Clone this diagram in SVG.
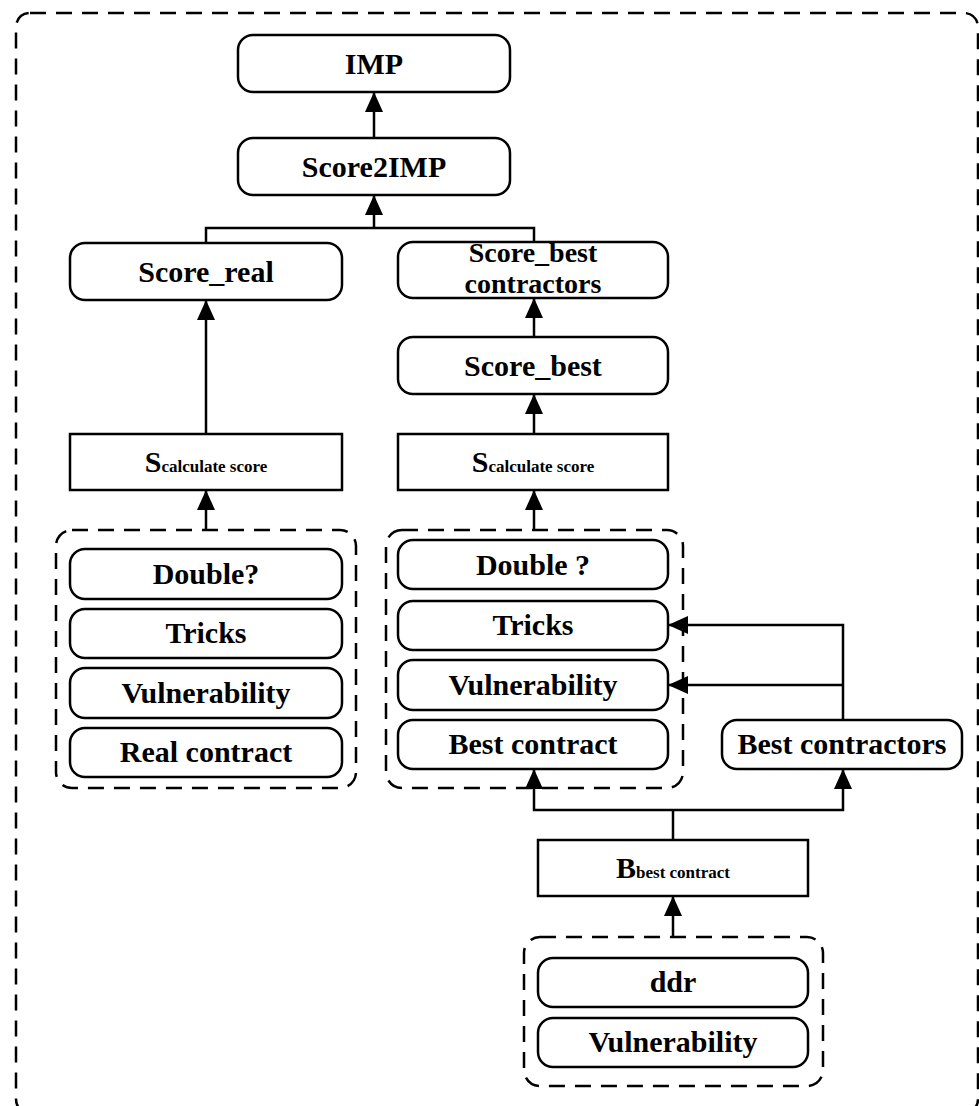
<svg xmlns="http://www.w3.org/2000/svg" width="979" height="1106" viewBox="0 0 979 1106">
<style>
.n{fill:#fff;stroke:#000;stroke-width:2.5}
.g{fill:none;stroke:#000;stroke-width:2.5;stroke-dasharray:16 10}
.c{fill:none;stroke:#000;stroke-width:2.5}
.t{font-family:"Liberation Serif","Times New Roman",serif;font-weight:bold;font-size:30px;text-anchor:middle;fill:#000}
.t2{font-family:"Liberation Serif","Times New Roman",serif;font-weight:bold;font-size:28px;text-anchor:middle;fill:#000}
.s{font-size:17px}
</style>
<defs>
<marker id="a" markerWidth="20" markerHeight="18" refX="19" refY="9" orient="auto" markerUnits="userSpaceOnUse" viewBox="0 0 20 18">
<path d="M0,0 L20,9 L0,18 Z" fill="#000"/>
</marker>
</defs>
<rect x="16" y="13" width="962" height="1100" rx="14" class="g"/>
<g id="connectors">
<path class="c" d="M374,138 V93" marker-end="url(#a)"/>
<path class="c" d="M206,243 V228 H534 V242"/>
<path class="c" d="M374,228 V196" marker-end="url(#a)"/>
<path class="c" d="M206,434 V301" marker-end="url(#a)"/>
<path class="c" d="M206,530 V491" marker-end="url(#a)"/>
<path class="c" d="M534,337 V299" marker-end="url(#a)"/>
<path class="c" d="M534,434 V395" marker-end="url(#a)"/>
<path class="c" d="M534,530 V491" marker-end="url(#a)"/>
<path class="c" d="M673,840 V810"/>
<path class="c" d="M673,810 H534 V770" marker-end="url(#a)"/>
<path class="c" d="M673,810 H843 V770" marker-end="url(#a)"/>
<path class="c" d="M843,720 V625 H669" marker-end="url(#a)"/>
<path class="c" d="M843,685 H669" marker-end="url(#a)"/>
<path class="c" d="M673,937 V897" marker-end="url(#a)"/>
</g>
<g id="imp"><rect class="n" x="238" y="35" width="272" height="57" rx="15"/><text class="t" x="374" y="74">IMP</text></g>
<g id="score2imp"><rect class="n" x="238" y="138" width="272" height="57" rx="15"/><text class="t" x="374" y="177">Score2IMP</text></g>
<g id="score_real"><rect class="n" x="70" y="243" width="272" height="57" rx="15"/><text class="t" x="206" y="282">Score_real</text></g>
<g id="score_best_contractors"><rect class="n" x="398" y="242" width="270" height="56" rx="15"/><text class="t2" x="533" y="262">Score_best</text><text class="t2" x="533" y="293">contractors</text></g>
<g id="score_best"><rect class="n" x="398" y="337" width="270" height="57" rx="15"/><text class="t" x="533" y="376">Score_best</text></g>
<g id="s_calc_left"><rect class="n" x="70" y="434" width="272" height="56"/><text class="t" x="206" y="472">S<tspan class="s">calculate score</tspan></text></g>
<g id="s_calc_right"><rect class="n" x="398" y="434" width="270" height="56"/><text class="t" x="533" y="472">S<tspan class="s">calculate score</tspan></text></g>
<g id="real_inputs">
<rect class="g" x="56" y="530" width="300" height="258" rx="16"/>
<rect class="n" x="70" y="549" width="272" height="50" rx="15"/><text class="t" x="206" y="584">Double?</text>
<rect class="n" x="70" y="609" width="272" height="49" rx="15"/><text class="t" x="206" y="643">Tricks</text>
<rect class="n" x="70" y="668" width="272" height="50" rx="15"/><text class="t" x="206" y="703">Vulnerability</text>
<rect class="n" x="70" y="728" width="272" height="49" rx="15"/><text class="t" x="206" y="762">Real contract</text>
</g>
<g id="best_inputs">
<rect class="g" x="386" y="530" width="297" height="258" rx="16"/>
<rect class="n" x="398" y="540" width="270" height="49" rx="15"/><text class="t" x="533" y="575">Double ?</text>
<rect class="n" x="398" y="601" width="270" height="49" rx="15"/><text class="t" x="533" y="635">Tricks</text>
<rect class="n" x="398" y="660" width="270" height="50" rx="15"/><text class="t" x="533" y="695">Vulnerability</text>
<rect class="n" x="398" y="720" width="270" height="49" rx="15"/><text class="t" x="533" y="754">Best contract</text>
</g>
<g id="best_contractors"><rect class="n" x="722" y="720" width="240" height="49" rx="15"/><text class="t" x="842" y="754">Best contractors</text></g>
<g id="b_best"><rect class="n" x="538" y="840" width="270" height="56"/><text class="t" x="673" y="878">B<tspan class="s">best contract</tspan></text></g>
<g id="b_inputs">
<rect class="g" x="524" y="937" width="299" height="149" rx="16"/>
<rect class="n" x="538" y="958" width="270" height="49" rx="15"/><text class="t" x="673" y="992">ddr</text>
<rect class="n" x="538" y="1018" width="270" height="49" rx="15"/><text class="t" x="673" y="1052">Vulnerability</text>
</g>
</svg>
